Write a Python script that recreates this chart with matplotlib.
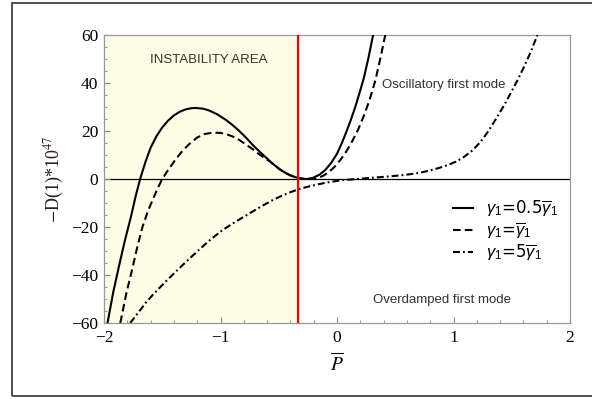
import matplotlib
matplotlib.use('Agg')
import matplotlib.pyplot as plt
from matplotlib.patches import Rectangle
from matplotlib.ticker import MultipleLocator

# values
p_solid = [-1.97, -1.92, -1.87, -1.82, -1.77, -1.73, -1.69, -1.645, -1.60, -1.55, -1.50,
           -1.45, -1.40, -1.35, -1.30, -1.25, -1.21, -1.15, -1.10, -1.03, -0.95, -0.90,
           -0.85, -0.78, -0.72, -0.66, -0.60, -0.55, -0.49, -0.44, -0.40, -0.36, -0.33,
           -0.30, -0.26, -0.21, -0.15, -0.10, -0.05, 0.0, 0.04, 0.08, 0.12, 0.16, 0.20,
           0.23, 0.27, 0.31]
d_solid = [-60, -47, -36, -25.5, -16, -7.5, 0, 7, 13, 17.8, 21.5,
           24.3, 26.5, 28, 29, 29.5, 29.6, 29.3, 28.6, 27, 24.5, 22.6,
           20.5, 17.2, 14, 11.2, 8.5, 6.3, 4, 2.5, 1.5, 0.8, 0.35,
           0.1, 0, 0.4, 1.8, 3.8, 6.7, 10.5, 14.8, 19.6, 24.8, 30.5, 37,
           42, 50.5, 60]

p_dash = [-1.86, -1.81, -1.76, -1.715, -1.67, -1.62, -1.57, -1.535, -1.50, -1.46, -1.42,
          -1.38, -1.33, -1.27, -1.20, -1.14, -1.07, -1.00, -0.95, -0.89, -0.84, -0.78,
          -0.72, -0.66, -0.60, -0.55, -0.49, -0.44, -0.40, -0.36, -0.33, -0.28, -0.22,
          -0.17, -0.12, -0.07, -0.02, 0.03, 0.08, 0.13, 0.18, 0.23, 0.28, 0.33, 0.38, 0.414]
d_dash = [-60, -48, -38, -28.5, -20, -13, -7.3, -3.5, 0, 3, 5.8,
          8.5, 11.5, 14.5, 17.3, 18.7, 19.3, 19.2, 18.7, 17.6, 16.3, 14.3,
          12.3, 10, 8.1, 6.3, 4, 2.5, 1.5, 0.8, 0.35, 0.08, 0,
          0.3, 1.3, 2.9, 5.1, 8, 11.5, 15.7, 20.4, 26.3, 33, 41.2, 52, 60]

p_dashdot = [-1.775, -1.70, -1.64, -1.58, -1.48, -1.38, -1.28, -1.18, -1.08, -0.98, -0.87,
             -0.75, -0.65, -0.55, -0.475, -0.40, -0.325, -0.25, -0.18, -0.12, -0.06, 0.0,
             0.08, 0.17, 0.26, 0.35, 0.43, 0.50, 0.58, 0.66, 0.73, 0.80, 0.875, 0.95,
             1.02, 1.09, 1.16, 1.233, 1.30, 1.377, 1.435, 1.49, 1.55, 1.606, 1.665, 1.72]
d_dashdot = [-60, -55.3, -51.5, -48.2, -43.2, -38.4, -33.8, -29.3, -25.0, -21.2, -17.8,
             -14.3, -11.4, -8.75, -7.0, -5.5, -4.2, -3.2, -2.4, -1.8, -1.25, -0.8,
             -0.35, 0.0, 0.35, 0.7, 1.0, 1.3, 1.7, 2.2, 2.8, 3.6, 4.6, 5.8,
             7.2, 9.2, 11.8, 15.5, 20, 26, 30.8, 35.7, 41.2, 46.8, 53.2, 60]

p_critical = -1 / 3
xlim = (-2, 2)
ylim = (-60, 60)
x_ticks = [-2, -1, 0, 1, 2]
y_ticks = [-60, -40, -20, 0, 20, 40, 60]

labels = [r'$\gamma_1$=0.5$\overline{\gamma}_1$',
          r'$\gamma_1$=$\overline{\gamma}_1$',
          r'$\gamma_1$=5$\overline{\gamma}_1$']

plt.rcParams['lines.scale_dashes'] = False
plt.rcParams['mathtext.fontset'] = 'custom'
plt.rcParams['mathtext.rm'] = 'Liberation Sans'
plt.rcParams['mathtext.it'] = 'Liberation Sans:italic'

fig = plt.figure(figsize=(5.92, 3.99), dpi=100)
ax = fig.add_axes([104 / 592, 1 - 323 / 399, 466 / 592, 288 / 399])

# shaded instability region + critical load
ax.axvspan(xlim[0], p_critical, color='#fdfde6', zorder=0)
ax.axvline(p_critical, color='#ff0000', lw=1.6, zorder=4)
ax.axhline(0, color='black', lw=0.9, zorder=1)

ax.plot(p_solid, d_solid, color='black', lw=1.5, label=labels[0], zorder=3)
ax.plot(p_dash, d_dash, color='black', lw=1.5, dashes=(5.5, 3), label=labels[1], zorder=3)
ax.plot(p_dashdot, d_dashdot, color='black', lw=1.5, dashes=(5, 2.2, 1.3, 2.2),
        label=labels[2], zorder=3)

ax.set_xlim(*xlim)
ax.set_ylim(*ylim)
ax.set_xticks(x_ticks)
ax.set_yticks(y_ticks)
ax.xaxis.set_minor_locator(MultipleLocator(0.2))
ax.yaxis.set_minor_locator(MultipleLocator(5))
ax.tick_params(which='both', direction='in', color='#888888', top=False, right=False)
ax.tick_params(which='major', length=4.5, width=0.8, labelsize=12.5)
ax.tick_params(which='minor', length=2.5, width=0.6)
ax.tick_params(axis='x', which='major', pad=5)
ax.tick_params(axis='y', which='major', pad=4)
for lbl in ax.get_xticklabels() + ax.get_yticklabels():
    lbl.set_family('Liberation Serif')
for s in ax.spines.values():
    s.set_color('#999999')
    s.set_linewidth(0.9)

ax.set_ylabel(r'$-$D(1)*10$^{47}$', family='Liberation Serif', fontsize=13,
              color='#2b1f1f', math_fontfamily='stix', labelpad=4)
ax.set_xlabel(r'$\overline{P}$', fontsize=14, math_fontfamily='stix', labelpad=4)

ax.text(-1.097, 49.6, 'INSTABILITY AREA', family='Liberation Sans', fontsize=9.5,
        color='#333333', ha='center', va='center')
ax.text(0.917, 39.2, 'Oscillatory first mode', family='Liberation Sans', fontsize=9.5,
        color='#333333', ha='center', va='center')
ax.text(0.897, -50.4, 'Overdamped first mode', family='Liberation Sans', fontsize=9.5,
        color='#333333', ha='center', va='center')

leg = ax.legend(loc='upper left', bbox_to_anchor=(0.73, 0.46), frameon=False,
                fontsize=12, handlelength=1.2, handletextpad=0.8, labelspacing=0.12,
                borderpad=0)

fig.add_artist(Rectangle((12 / 592, 3 / 399), 1.0, 393 / 399, transform=fig.transFigure,
                         fill=False, ec='#333333', lw=1.2))

fig.savefig('out.png', dpi=100)
